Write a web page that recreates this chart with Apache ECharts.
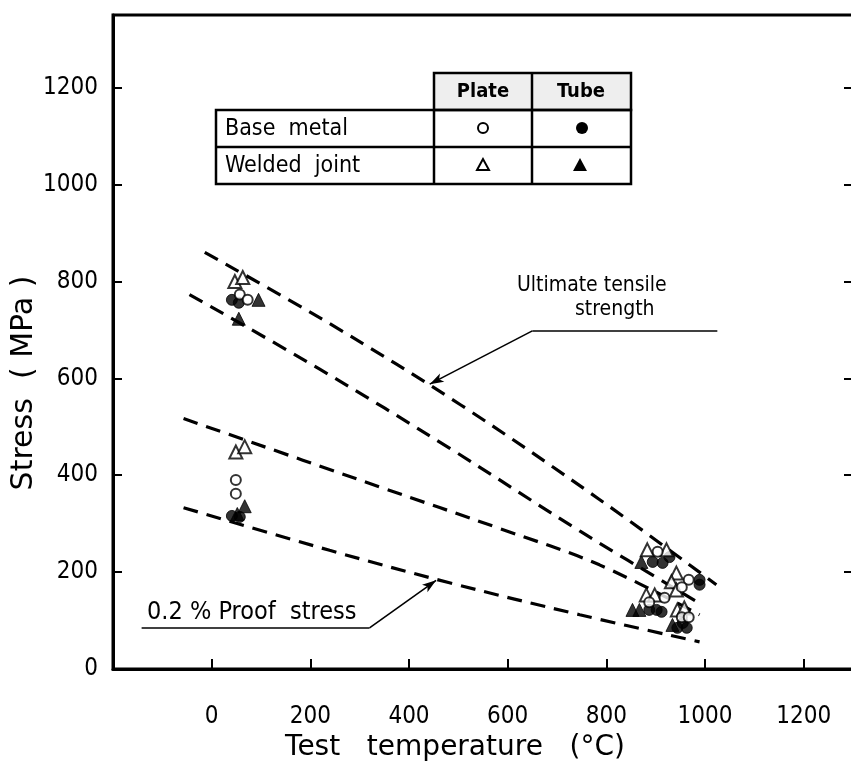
<!DOCTYPE html>
<html>
<head>
<meta charset="utf-8">
<title>Stress vs test temperature</title>
<script src="https://cdn.jsdelivr.net/npm/echarts@6/dist/echarts.min.js"></script>
<style>
  html, body { margin: 0; padding: 0; background: #fff; }
  #chart { width: 851px; height: 762px; }
</style>
</head>
<body>
<div id="chart"></div>
<script>
// Axis ranges (°C, MPa)
const tempRange = [-200, 1300];
const stressRange = [0, 1350];
const tickStep = 200;

// Measured points: [temperature °C, stress MPa]
const plateBase = [[57,773],[73,762],[49,390],[49,362],[904,242],[967,184],[953,169],[918,147],[887,138],[953,107],[967,107]];
const tubeBase = [[41,762],[55,756],[41,316],[57,314],[894,221],[914,219],[928,231],[989,184],[989,174],[887,122],[902,122],[912,118],[944,85],[963,85],[955,95]];
const plateWeld = [[47,800],[63,808],[49,448],[67,459],[883,246],[922,246],[942,198],[932,180],[942,163],[881,153],[898,153],[944,122],[958,126]];
const tubeWeld = [[95,762],[55,723],[67,336],[52,320],[871,221],[853,122],[867,122],[934,91]];

// Scatter bands (dashed curves)
const utsUpper = [[-14,860],[239,713],[505,545],[786,350],[1023,174]];
const utsLower = [[-45,773],[219,619],[482,456],[746,285],[995,132]];
const proofUpper = [[-57,517],[340,376],[584,290],[786,215],[989,112]];
const proofLower = [[-57,333],[239,245],[482,178],[746,112],[989,56]];

// Leader lines for the band captions
const utsLeader = { under: [[650,698],[1025,698]], pointer: [[650,698],[442,588]] };
const proofLeader = { under: [[-142,85],[320,85]], pointer: [[320,85],[455,183]] };

const FONT = "'DejaVu Sans Condensed', 'DejaVu Sans', sans-serif";
const TEXT_FONT = "'DejaVu Sans Condensed', 'DejaVu Sans', sans-serif";
const TITLE_FONT = "'DejaVu Sans', sans-serif";
const INK = '#000';

const chart = echarts.init(document.getElementById('chart'), null, { renderer: 'canvas' });

const dashStyle = { color: INK, width: 3.2, type: [15, 9] };

function band(name, pts) {
  return {
    name, type: 'line', data: pts, smooth: 0.35, showSymbol: false, silent: true,
    lineStyle: dashStyle, z: 2
  };
}

function leaderLines(l) {
  return [
    [{ coord: l.under[0], symbol: 'none' }, { coord: l.under[1], symbol: 'none' }],
    [{ coord: l.pointer[0], symbol: 'none' }, { coord: l.pointer[1], symbol: 'arrow', symbolSize: [7, 14] }]
  ];
}

function markers(name, pts, symbol, filled, size, z) {
  return {
    name, type: 'scatter', data: pts, symbol, symbolSize: size, z,
    itemStyle: filled
      ? { color: INK, borderColor: INK, borderWidth: 1 }
      : { color: '#fff', borderColor: INK, borderWidth: 2 }
  };
}

const option = {
  animation: false,
  backgroundColor: '#fff',
  grid: {
    left: 113, top: 15, width: 740, height: 654,
    outerBoundsMode: 'none', containLabel: false,
    show: true, borderColor: INK, borderWidth: 3, backgroundColor: 'transparent'
  },
  xAxis: {
    type: 'value', min: tempRange[0], max: tempRange[1], interval: tickStep,
    name: 'Test   temperature   (°C)', nameLocation: 'middle', nameGap: 55,
    nameTextStyle: { fontFamily: TITLE_FONT, fontSize: 28, color: INK, padding: [0, 56, 0, 0] },
    axisLine: { onZero: false, lineStyle: { color: INK, width: 3 } },
    axisTick: { inside: true, length: 10, lineStyle: { color: INK, width: 2 } },
    axisLabel: {
      margin: 36, fontSize: 24, color: INK, fontFamily: FONT,
      formatter: v => (v < 0 || v > 1200) ? '' : String(v)
    },
    splitLine: { show: false }
  },
  yAxis: [{
    type: 'value', min: stressRange[0], max: stressRange[1], interval: tickStep,
    name: 'Stress  ( MPa )', nameLocation: 'middle', nameGap: 74, nameRotate: 90,
    nameMoveOverlap: false,
    nameTextStyle: { fontFamily: TITLE_FONT, fontSize: 30, color: INK, padding: [0, 82, 0, 0] },
    axisLine: { onZero: false, lineStyle: { color: INK, width: 3 } },
    axisTick: { inside: true, length: 9, lineStyle: { color: INK, width: 2 } },
    axisLabel: {
      margin: 15, fontSize: 24, color: INK, fontFamily: FONT,
      formatter: v => v > 1200 ? '' : String(v)
    },
    splitLine: { show: false }
  }, {
    type: 'value', position: 'right', min: stressRange[0], max: stressRange[1], interval: tickStep,
    axisLine: { show: true, onZero: false, lineStyle: { color: INK, width: 3 } },
    axisTick: { inside: true, length: 9, lineStyle: { color: INK, width: 2 } },
    axisLabel: { show: false },
    splitLine: { show: false }
  }],
  series: [
    Object.assign(band('UTS upper', utsUpper), {
      markLine: {
        silent: true, animation: false, symbol: ['none', 'arrow'],
        label: { show: false },
        lineStyle: { color: INK, width: 1.6, type: 'solid' },
        data: leaderLines(utsLeader).concat(leaderLines(proofLeader))
      }
    }),
    band('UTS lower', utsLower),
    band('Proof upper', proofUpper),
    band('Proof lower', proofLower),
    markers('Tube, welded joint', tubeWeld, 'triangle', true, 13, 4),
    markers('Tube, base metal', tubeBase, 'circle', true, 11, 4),
    markers('Plate, welded joint', plateWeld, 'triangle', false, 13, 5),
    markers('Plate, base metal', plateBase, 'circle', false, 10, 5)
  ],
  graphic: [
    // key table: header cells
    { type: 'rect', shape: { x: 434, y: 73, width: 197, height: 37 },
      style: { fill: '#eeeeee', stroke: INK, lineWidth: 2.5 } },
    { type: 'line', shape: { x1: 532, y1: 73, x2: 532, y2: 184 }, style: { stroke: INK, lineWidth: 2.5 } },
    { type: 'rect', shape: { x: 216, y: 110, width: 415, height: 74 },
      style: { fill: 'transparent', stroke: INK, lineWidth: 2.5 } },
    { type: 'line', shape: { x1: 216, y1: 147, x2: 631, y2: 147 }, style: { stroke: INK, lineWidth: 2.5 } },
    { type: 'line', shape: { x1: 434, y1: 110, x2: 434, y2: 184 }, style: { stroke: INK, lineWidth: 2.5 } },
    { type: 'text', x: 483, y: 92, style: { text: 'Plate', fill: INK, font: "bold 20px " + TEXT_FONT, align: 'center', verticalAlign: 'middle' } },
    { type: 'text', x: 581, y: 92, style: { text: 'Tube', fill: INK, font: "bold 20px " + TEXT_FONT, align: 'center', verticalAlign: 'middle' } },
    { type: 'text', x: 225, y: 129, style: { text: 'Base  metal', fill: INK, font: "23px " + TEXT_FONT, align: 'left', verticalAlign: 'middle' } },
    { type: 'text', x: 225, y: 166, style: { text: 'Welded  joint', fill: INK, font: "23px " + TEXT_FONT, align: 'left', verticalAlign: 'middle' } },
    { type: 'circle', shape: { cx: 483, cy: 128, r: 5 }, style: { fill: '#fff', stroke: INK, lineWidth: 2 } },
    { type: 'circle', shape: { cx: 582, cy: 128, r: 6 }, style: { fill: INK } },
    { type: 'polygon', shape: { points: [[483, 159], [477, 170], [489, 170]] }, style: { fill: '#fff', stroke: INK, lineWidth: 2 } },
    { type: 'polygon', shape: { points: [[580, 158], [573, 171], [587, 171]] }, style: { fill: INK } },
    // band captions
    { type: 'text', x: 517, y: 286, style: { text: 'Ultimate tensile', fill: INK, font: "21px " + TEXT_FONT, align: 'left', verticalAlign: 'middle' } },
    { type: 'text', x: 575, y: 310, style: { text: 'strength', fill: INK, font: "21px " + TEXT_FONT, align: 'left', verticalAlign: 'middle' } },
    { type: 'text', x: 147, y: 612, style: { text: '0.2 % Proof  stress', fill: INK, font: "25px " + TEXT_FONT, align: 'left', verticalAlign: 'middle' } }
  ]
};

chart.setOption(option);
</script>
</body>
</html>
